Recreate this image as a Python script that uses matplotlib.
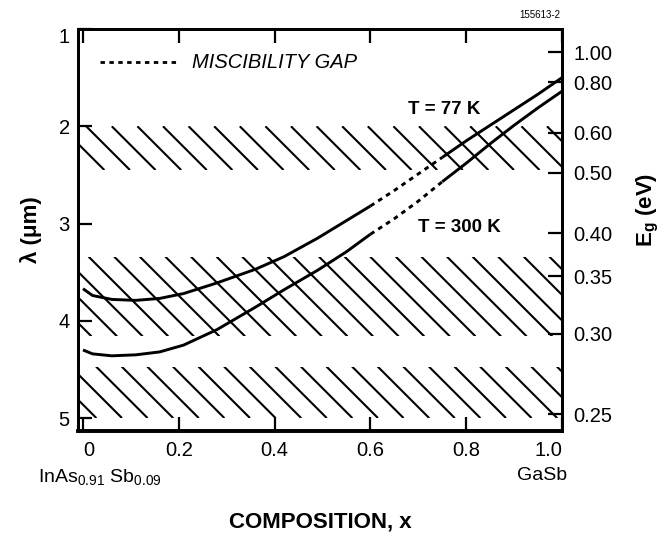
import numpy as np
import matplotlib
matplotlib.use("Agg")
import matplotlib.pyplot as plt
from matplotlib.patches import Rectangle
from matplotlib.transforms import ScaledTranslation

plt.rcParams['font.family'] = ['Liberation Sans', 'DejaVu Sans']
plt.rcParams['mathtext.fontset'] = 'custom'
plt.rcParams['mathtext.rm'] = 'Liberation Sans'
plt.rcParams['mathtext.it'] = 'Liberation Sans:italic'
plt.rcParams['mathtext.bf'] = 'Liberation Sans:bold'

# ---- data ----
composition = [0.00, 0.02, 0.06, 0.11, 0.16, 0.21, 0.28, 0.36, 0.42, 0.49,
               0.55, 0.60, 0.65, 0.70, 0.75, 0.80, 0.85, 0.90, 0.95, 1.00]
lam_77K = [3.67, 3.74, 3.78, 3.79, 3.77, 3.72, 3.61, 3.47, 3.34, 3.15,
           2.97, 2.82, 2.66, 2.49, 2.32, 2.15, 1.99, 1.83, 1.67, 1.50]
lam_300K = [4.30, 4.34, 4.36, 4.35, 4.32, 4.25, 4.09, 3.86, 3.68, 3.48,
            3.29, 3.11, 2.95, 2.77, 2.57, 2.38, 2.18, 1.99, 1.81, 1.64]
gap_start, gap_end = 0.60, 0.75          # miscibility gap (dotted)
band_low = [2.00, 3.34, 4.47]            # hatched wavelength bands (um)
band_high = [2.45, 4.16, 5.00]
lam_ticks = [1, 2, 3, 4, 5]
x_ticks = [0, 0.2, 0.4, 0.6, 0.8, 1.0]
x_ticklabels = ['0', '0.2', '0.4', '0.6', '0.8', '1.0']
energy_ticks = [1.00, 0.80, 0.60, 0.50, 0.40, 0.35, 0.30, 0.25]
HC = 1.2398  # eV*um

W, H = 663, 535
fig = plt.figure(figsize=(W / 100, H / 100), dpi=100)
ax = fig.add_axes([78 / W, 1 - 431 / H, 484 / W, 402 / H])
ax.set_xlim(-0.0104, 1.0)
ax.set_ylim(5.133, 1.0)

lw_spine = 2.0
for s in ax.spines.values():
    s.set_linewidth(lw_spine)
ax.spines['bottom'].set_linewidth(2.6)

ax.set_xticks(x_ticks)
ax.set_xticklabels(x_ticklabels)
ax.set_yticks(lam_ticks)
ax.set_yticklabels([str(v) for v in lam_ticks])
ax.tick_params(axis='both', direction='in', length=10, width=1.6,
               labelsize=14.5, top=True)
ax.tick_params(axis='x', pad=7)
ax.tick_params(axis='y', pad=6)
xl = ax.get_xticklabels()
xl[0].set_horizontalalignment('left')
xl[-1].set_horizontalalignment('right')
yl = ax.get_yticklabels()
yl[0].set_transform(yl[0].get_transform() +
                    ScaledTranslation(0, -7 / 100, fig.dpi_scale_trans))

ax2 = ax.twinx()
ax2.set_ylim(ax.get_ylim())
ax2.set_yticks([HC / e for e in energy_ticks])
ax2.set_yticklabels(['%.2f' % e for e in energy_ticks])
ax2.tick_params(axis='y', direction='in', length=10, width=1.6,
                labelsize=14.5, pad=8)
for s in ax2.spines.values():
    s.set_linewidth(lw_spine)
ax2.spines['bottom'].set_linewidth(2.6)

# ---- hatched bands (diagonal lines, drawn clipped to each band) ----
fig.canvas.draw()
p0 = ax.transData.transform((0, 1))
p1 = ax.transData.transform((1, 2))
sx = p1[0] - p0[0]
sy = abs(p1[1] - p0[1])
slope = sy / sx                 # x-shift per um for a 45 degree line
dx = 25.6 / sx                  # line spacing along x
phase = 0.648                   # x of one line at lambda = 2.0
xmin, xmax = ax.get_xlim()
for lo, hi in zip(band_low, band_high):
    clip = Rectangle((xmin, lo), xmax - xmin, hi - lo, transform=ax.transData,
                     facecolor='none', edgecolor='none')
    ax.add_patch(clip)
    base = phase + (lo - 2.0) * slope
    k0 = int(np.floor((xmin - (hi - lo) * slope - base) / dx)) - 1
    k1 = int(np.ceil((xmax - base) / dx)) + 1
    for k in range(k0, k1 + 1):
        xs = base + k * dx
        ln, = ax.plot([xs, xs + (hi - lo) * slope], [lo, hi], color='black',
                      lw=1.5, solid_capstyle='butt', zorder=2)
        ln.set_clip_path(clip)

# ---- curves ----
comp = np.array(composition)
for lam in (lam_77K, lam_300K):
    lam = np.array(lam)
    m1 = comp <= gap_start + 1e-9
    m2 = (comp >= gap_start - 1e-9) & (comp <= gap_end + 1e-9)
    m3 = comp >= gap_end - 1e-9
    ax.plot(comp[m1], lam[m1], color='black', lw=2.1, zorder=3,
            solid_capstyle='butt', solid_joinstyle='round')
    ax.plot(comp[m2], lam[m2], color='black', lw=2.1, zorder=3,
            linestyle=(0, (1.6, 1.6)))
    ax.plot(comp[m3], lam[m3], color='black', lw=2.1, zorder=3,
            solid_capstyle='butt', solid_joinstyle='round')

# ---- legend (miscibility gap) ----
ax.plot([0.035, 0.198], [1.34, 1.34], color='black', lw=2.0,
        linestyle=(0, (1.6, 1.6)))
ax.text(0.228, 1.34, 'MISCIBILITY GAP', fontsize=14.5, style='italic',
        ha='left', va='center')

# ---- curve labels ----
ax.text(0.754, 1.83, 'T = 77 K', fontsize=13.5, fontweight='bold',
        ha='center', va='center')
ax.text(0.785, 3.04, 'T = 300 K', fontsize=13.5, fontweight='bold',
        ha='center', va='center')

# ---- axis labels ----
ax.set_ylabel('\u03bb (\u03bcm)', fontsize=16, fontweight='bold', labelpad=12)
ax2.set_ylabel(r'E$_\mathbf{g}$ (eV)', fontsize=16, fontweight='bold',
               rotation=90, ha='center', va='center')
ax2.yaxis.set_label_coords(1.178, 0.55)
fig.text(100 / W, 1 - 477 / H, r'InAs$_{0.91}$ Sb$_{0.09}$', fontsize=14,
         ha='center', va='center')
fig.text(542 / W, 1 - 476 / H, 'GaSb', fontsize=14, ha='center', va='center')
fig.text(320 / W, 1 - 522 / H, 'COMPOSITION, x', fontsize=16,
         fontweight='bold', ha='center', va='center')
fig.text(540 / W, 1 - 15 / H, '155613-2', fontsize=7, ha='center',
         va='center')

fig.savefig('out.png', dpi=100)
